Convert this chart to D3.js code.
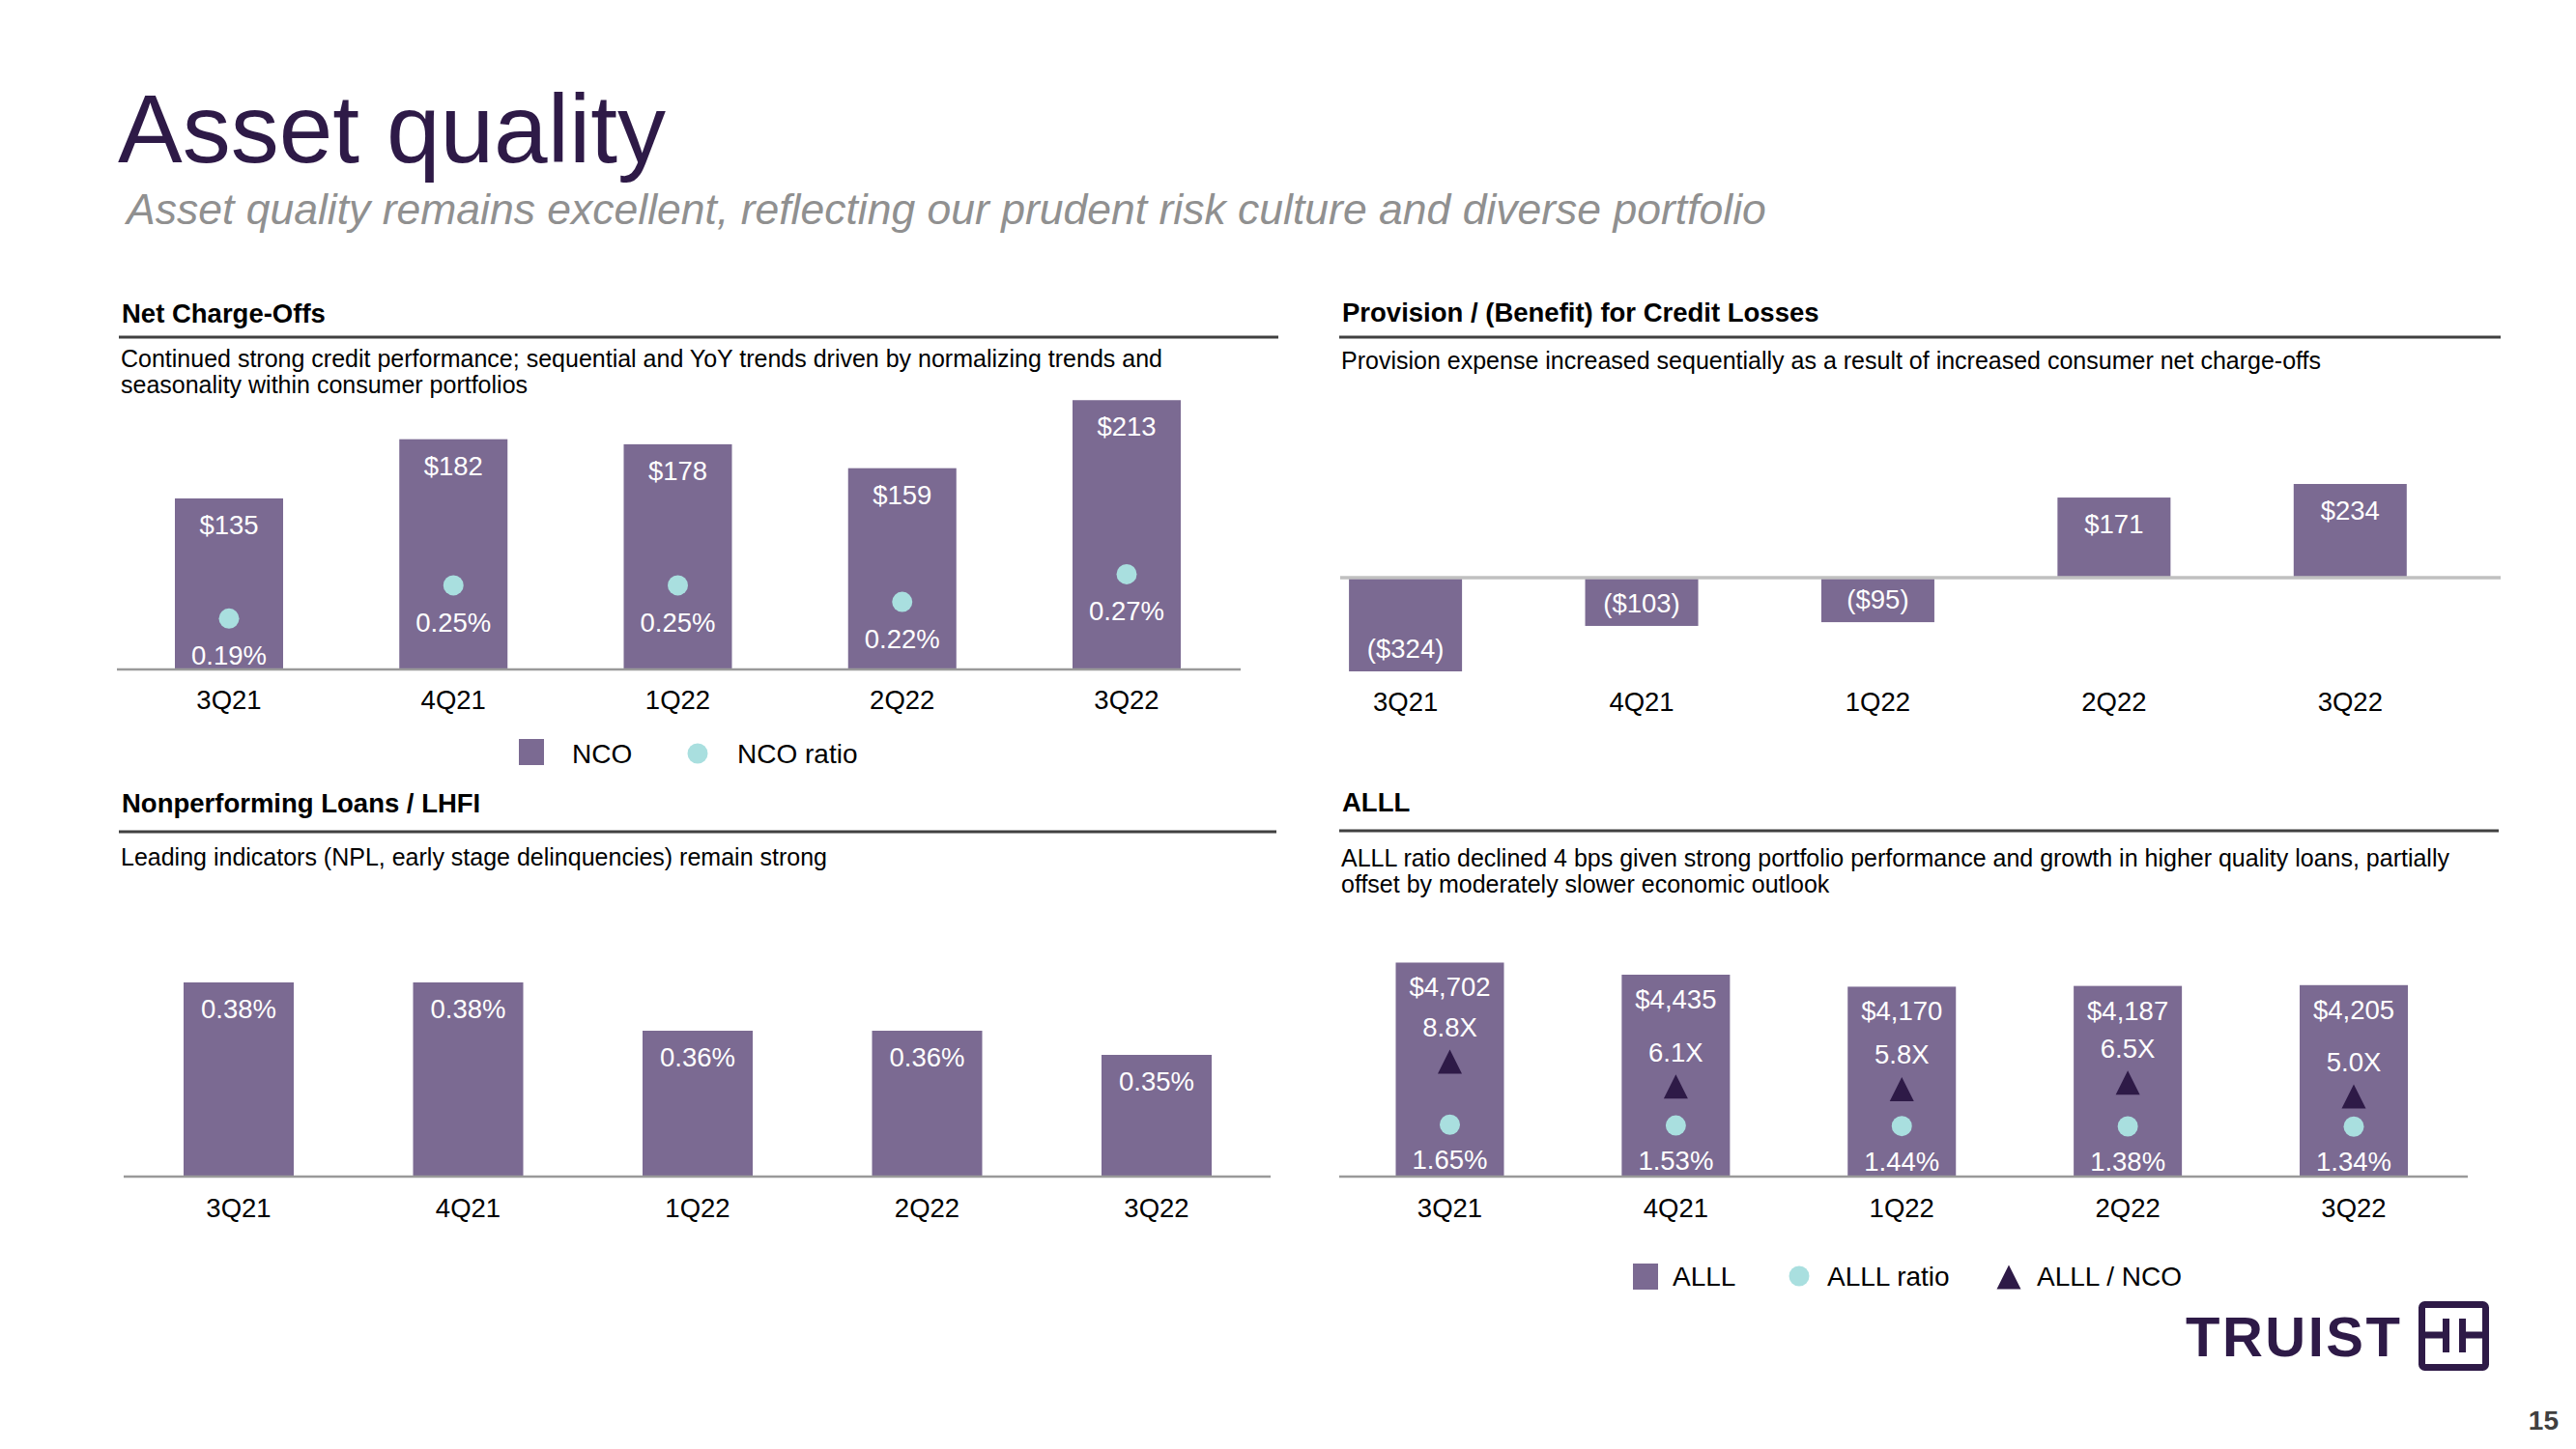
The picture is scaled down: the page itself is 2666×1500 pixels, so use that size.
<!DOCTYPE html>
<html>
<head>
<meta charset="utf-8">
<script src="https://cdn.jsdelivr.net/npm/d3@7"></script>
<style>
  html, body { margin: 0; padding: 0; background: #ffffff; }
  svg { display: block; }
  text { font-family: "Liberation Sans", Arial, Helvetica, sans-serif; }
</style>
</head>
<body>
<svg id="chart" width="2666" height="1500"></svg>
<script>
// ---------------- DATA ----------------
const quarters = ["3Q21", "4Q21", "1Q22", "2Q22", "3Q22"];

// Net Charge-Offs ($M) and NCO ratio (%)
const ncoValues = [135, 182, 178, 159, 213];
const ncoRatio = [0.19, 0.25, 0.25, 0.22, 0.27];

// Provision / (Benefit) for credit losses ($M)
const provisionValues = [-324, -103, -95, 171, 234];

// Nonperforming loans / LHFI (%)
const nplRatio = [0.38, 0.38, 0.36, 0.36, 0.35];

// ALLL ($M), ALLL ratio (%), ALLL / NCO (x)
const alllValues = [4702, 4435, 4170, 4187, 4205];
const alllRatio = [1.65, 1.53, 1.44, 1.38, 1.34];
const alllToNco = [8.8, 6.1, 5.8, 6.5, 5.0];

// Text
const pageTitle = "Asset quality";
const pageSubtitle = "Asset quality remains excellent, reflecting our prudent risk culture and diverse portfolio";
const ncoTitle = "Net Charge-Offs";
const ncoNote = ["Continued strong credit performance; sequential and YoY trends driven by normalizing trends and",
                 "seasonality within consumer portfolios"];
const provTitle = "Provision / (Benefit) for Credit Losses";
const provNote = ["Provision expense increased sequentially as a result of increased consumer net charge-offs"];
const nplTitle = "Nonperforming Loans / LHFI";
const nplNote = ["Leading indicators (NPL, early stage delinquencies) remain strong"];
const alllTitle = "ALLL";
const alllNote = ["ALLL ratio declined 4 bps given strong portfolio performance and growth in higher quality loans, partially",
                  "offset by moderately slower economic outlook"];
const ncoLegend = ["NCO", "NCO ratio"];
const alllLegend = ["ALLL", "ALLL ratio", "ALLL / NCO"];
const pageNumber = "15";

// ---------------- STYLE ----------------
const BAR = "#7b6a92";
const TEAL = "#a9dfdf";
const DARK = "#2e1a47";
const RULE = "#404040";
const AXIS = "#9a9a9a";
const FONT_LABEL = 27.5;
const FONT_LEGEND = 28;

const svg = d3.select("#chart");
svg.append("rect").attr("width", 2666).attr("height", 1500).attr("fill", "#fff");

// ---------------- HEADER ----------------
svg.append("text").attr("x", 122).attr("y", 168)
  .attr("font-size", 100).attr("fill", DARK).text(pageTitle);
svg.append("text").attr("x", 131).attr("y", 232)
  .attr("font-size", 44.5).attr("font-style", "italic").attr("fill", "#909090").text(pageSubtitle);

function panelHeader(x, x2, yTitle, yRule, title, notes, noteY) {
  svg.append("text").attr("x", x).attr("y", yTitle)
    .attr("font-size", 27.5).attr("font-weight", "bold").attr("fill", "#000").text(title);
  svg.append("line").attr("x1", x - 3).attr("x2", x2).attr("y1", yRule).attr("y2", yRule)
    .attr("stroke", RULE).attr("stroke-width", 3);
  notes.forEach((t, i) => {
    svg.append("text").attr("x", x - 1).attr("y", noteY + i * 27)
      .attr("font-size", 25).attr("fill", "#000").text(t);
  });
}

panelHeader(126, 1323, 334, 349, ncoTitle, ncoNote, 380);
panelHeader(1389, 2588, 333, 349, provTitle, provNote, 382);
panelHeader(126, 1321, 841, 861, nplTitle, nplNote, 896);
panelHeader(1389, 2586, 840, 860, alllTitle, alllNote, 897);

function xAxis(g, x, y, labelOffset) {
  const ax = g.append("g").attr("transform", `translate(0,${y})`)
    .call(d3.axisBottom(x).tickSize(0));
  ax.select(".domain").remove();
  ax.selectAll("text").attr("dy", null).attr("y", labelOffset)
    .attr("font-size", FONT_LABEL).attr("fill", "#000")
    .attr("font-family", '"Liberation Sans", Arial, sans-serif');
}

function bandFor(centerFirst, centerLast, bw) {
  const step = (centerLast - centerFirst) / (quarters.length - 1);
  const pad = 1 - bw / step;
  return d3.scaleBand().domain(quarters)
    .range([centerFirst - step / 2, centerLast + step / 2])
    .paddingInner(pad).paddingOuter(pad / 2);
}

// ---------------- PANEL 1: NET CHARGE-OFFS ----------------
{
  const g = svg.append("g");
  const x = bandFor(237, 1166, 112);
  const y = d3.scaleLinear().domain([0, 250]).range([692, 366]);
  const yr = d3.scaleLinear().domain([0.10, 0.30]).range([692, 577.2]);
  const data = quarters.map((q, i) => ({ q, v: ncoValues[i], r: ncoRatio[i] }));

  g.selectAll(".bar").data(data).join("rect")
    .attr("x", d => x(d.q)).attr("width", x.bandwidth())
    .attr("y", d => y(d.v)).attr("height", d => y(0) - y(d.v))
    .attr("fill", BAR);
  g.append("line").attr("x1", 121).attr("x2", 1284).attr("y1", 693).attr("y2", 693)
    .attr("stroke", AXIS).attr("stroke-width", 2.5);
  g.selectAll(".vl").data(data).join("text")
    .attr("x", d => x(d.q) + x.bandwidth() / 2).attr("y", d => y(d.v) + 37)
    .attr("text-anchor", "middle").attr("font-size", FONT_LABEL).attr("fill", "#fff")
    .text(d => "$" + d.v);
  g.selectAll(".dot").data(data).join("circle")
    .attr("cx", d => x(d.q) + x.bandwidth() / 2).attr("cy", d => yr(d.r))
    .attr("r", 10.5).attr("fill", TEAL);
  g.selectAll(".rl").data(data).join("text")
    .attr("x", d => x(d.q) + x.bandwidth() / 2).attr("y", d => yr(d.r) + 48)
    .attr("text-anchor", "middle").attr("font-size", FONT_LABEL).attr("fill", "#fff")
    .text(d => d.r.toFixed(2) + "%");
  xAxis(g, x, 692, 42);

  // legend
  const lg = svg.append("g");
  lg.append("rect").attr("x", 537).attr("y", 765).attr("width", 26).attr("height", 27).attr("fill", BAR);
  lg.append("text").attr("x", 592).attr("y", 790).attr("font-size", FONT_LEGEND).text(ncoLegend[0]);
  lg.append("circle").attr("cx", 722).attr("cy", 780).attr("r", 10.5).attr("fill", TEAL);
  lg.append("text").attr("x", 763).attr("y", 790).attr("font-size", FONT_LEGEND).text(ncoLegend[1]);
}

// ---------------- PANEL 2: PROVISION ----------------
{
  const g = svg.append("g");
  const x = bandFor(1454.6, 2432.3, 117);
  const y = d3.scaleLinear().domain([-200, 200]).range([695, 501]).clamp(true);
  const data = quarters.map((q, i) => ({ q, v: provisionValues[i] }));

  g.selectAll(".bar").data(data).join("rect")
    .attr("x", d => x(d.q)).attr("width", x.bandwidth())
    .attr("y", d => Math.min(y(d.v), y(0))).attr("height", d => Math.abs(y(d.v) - y(0)))
    .attr("fill", BAR);
  g.append("line").attr("x1", 1387).attr("x2", 2588).attr("y1", y(0)).attr("y2", y(0))
    .attr("stroke", "#c0c0c0").attr("stroke-width", 3.5);
  g.selectAll(".vl").data(data).join("text")
    .attr("x", d => x(d.q) + x.bandwidth() / 2)
    .attr("y", d => d.v >= 0 ? y(d.v) + 37 : y(d.v) - 14)
    .attr("text-anchor", "middle").attr("font-size", FONT_LABEL).attr("fill", "#fff")
    .text(d => d.v >= 0 ? "$" + d.v : "($" + Math.abs(d.v) + ")");
  xAxis(g, x, 598, 138);
}

// ---------------- PANEL 3: NPL ----------------
{
  const g = svg.append("g");
  const x = bandFor(247, 1197, 114);
  const y = d3.scaleLinear().domain([0.30, 0.40]).range([1217, 967]);
  const data = quarters.map((q, i) => ({ q, v: nplRatio[i] }));

  g.selectAll(".bar").data(data).join("rect")
    .attr("x", d => x(d.q)).attr("width", x.bandwidth())
    .attr("y", d => y(d.v)).attr("height", d => y(0.30) - y(d.v))
    .attr("fill", BAR);
  g.append("line").attr("x1", 128).attr("x2", 1315).attr("y1", 1218).attr("y2", 1218)
    .attr("stroke", AXIS).attr("stroke-width", 2.5);
  g.selectAll(".vl").data(data).join("text")
    .attr("x", d => x(d.q) + x.bandwidth() / 2).attr("y", d => y(d.v) + 37)
    .attr("text-anchor", "middle").attr("font-size", FONT_LABEL).attr("fill", "#fff")
    .text(d => d.v.toFixed(2) + "%");
  xAxis(g, x, 1217, 43);
}

// ---------------- PANEL 4: ALLL ----------------
{
  const g = svg.append("g");
  const x = bandFor(1500.5, 2436, 112);
  const y = d3.scaleLinear().domain([0, 5000]).range([1217, 982.5]);
  const yr = d3.scaleLinear().domain([0, 2]).range([1175, 1162]);
  const ym = d3.scaleLinear().domain([0, 10]).range([1182.4, 1087.7]);
  const data = quarters.map((q, i) => ({ q, v: alllValues[i], r: alllRatio[i], m: alllToNco[i] }));
  const cx = d => x(d.q) + x.bandwidth() / 2;

  g.selectAll(".bar").data(data).join("rect")
    .attr("x", d => x(d.q)).attr("width", x.bandwidth())
    .attr("y", d => y(d.v)).attr("height", d => y(0) - y(d.v))
    .attr("fill", BAR);
  g.append("line").attr("x1", 1386).attr("x2", 2554).attr("y1", 1218).attr("y2", 1218)
    .attr("stroke", AXIS).attr("stroke-width", 2.5);
  g.selectAll(".vl").data(data).join("text")
    .attr("x", cx).attr("y", d => y(d.v) + 35)
    .attr("text-anchor", "middle").attr("font-size", FONT_LABEL).attr("fill", "#fff")
    .text(d => "$" + d3.format(",")(d.v));
  const tri = "M0,-12.5L12.5,12.5L-12.5,12.5Z";
  g.selectAll(".tri").data(data).join("path")
    .attr("d", tri).attr("transform", d => `translate(${cx(d)},${ym(d.m)})`)
    .attr("fill", DARK);
  g.selectAll(".ml").data(data).join("text")
    .attr("x", cx).attr("y", d => ym(d.m) - 26)
    .attr("text-anchor", "middle").attr("font-size", FONT_LABEL).attr("fill", "#fff")
    .text(d => d.m.toFixed(1) + "X");
  g.selectAll(".dot").data(data).join("circle")
    .attr("cx", cx).attr("cy", d => yr(d.r))
    .attr("r", 10.5).attr("fill", TEAL);
  g.selectAll(".rl").data(data).join("text")
    .attr("x", cx).attr("y", d => yr(d.r) + 46)
    .attr("text-anchor", "middle").attr("font-size", FONT_LABEL).attr("fill", "#fff")
    .text(d => d.r.toFixed(2) + "%");
  xAxis(g, x, 1217, 43);

  const lg = svg.append("g");
  lg.append("rect").attr("x", 1690).attr("y", 1308).attr("width", 26).attr("height", 27).attr("fill", BAR);
  lg.append("text").attr("x", 1731).attr("y", 1331).attr("font-size", FONT_LEGEND).text(alllLegend[0]);
  lg.append("circle").attr("cx", 1862).attr("cy", 1321).attr("r", 10.5).attr("fill", TEAL);
  lg.append("text").attr("x", 1891).attr("y", 1331).attr("font-size", FONT_LEGEND).text(alllLegend[1]);
  lg.append("path").attr("d", tri).attr("transform", "translate(2079,1322)").attr("fill", DARK);
  lg.append("text").attr("x", 2108).attr("y", 1331).attr("font-size", FONT_LEGEND).text(alllLegend[2]);
}

// ---------------- LOGO & PAGE NUMBER ----------------
{
  const lg = svg.append("g");
  lg.append("text").attr("x", 2262).attr("y", 1404)
    .attr("font-family", "Lato, 'Open Sans', sans-serif").attr("font-weight", 700)
    .attr("font-size", 58).attr("fill", DARK)
    .attr("textLength", 222).attr("lengthAdjust", "spacing").text("TRUIST");
  lg.append("rect").attr("x", 2506.5).attr("y", 1350.5).attr("width", 66).attr("height", 65)
    .attr("rx", 3).attr("fill", "none").attr("stroke", DARK).attr("stroke-width", 7);
  lg.append("rect").attr("x", 2528).attr("y", 1365).attr("width", 7).attr("height", 35).attr("fill", DARK);
  lg.append("rect").attr("x", 2545).attr("y", 1365).attr("width", 7).attr("height", 35).attr("fill", DARK);
  lg.append("rect").attr("x", 2506).attr("y", 1378.5).attr("width", 26).attr("height", 7).attr("fill", DARK);
  lg.append("rect").attr("x", 2548).attr("y", 1378.5).attr("width", 26).attr("height", 7).attr("fill", DARK);
  svg.append("text").attr("x", 2648).attr("y", 1480).attr("text-anchor", "end")
    .attr("font-size", 28).attr("font-weight", "bold").attr("fill", "#404040").text(pageNumber);
}
</script>
</body>
</html>
